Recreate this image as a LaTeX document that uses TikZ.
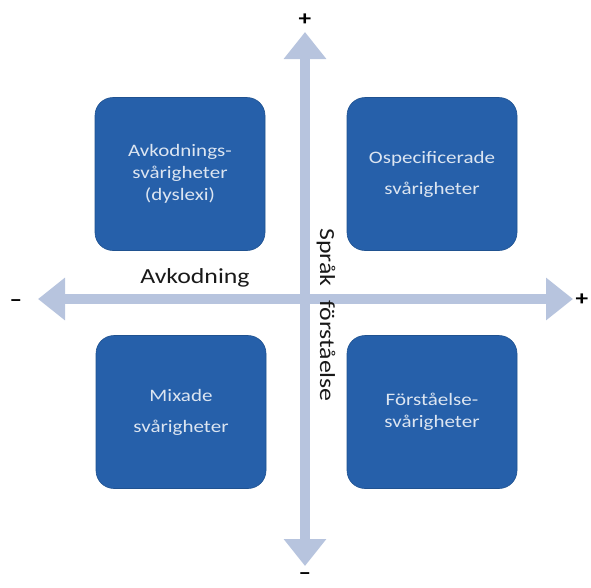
\documentclass[tikz,border=0pt]{standalone}
\usepackage{fontspec}
\setmainfont{Carlito}[FakeStretch=1.2]
\usetikzlibrary{arrows.meta}

\definecolor{boxblue}{HTML}{2660AA}
\definecolor{axisgray}{HTML}{B7C4DE}
\definecolor{boxtext}{HTML}{DCE5F1}

\tikzset{
  quadbox/.style={rectangle, rounded corners=18pt, fill=boxblue, draw=boxblue!85!black, line width=0.6pt,
    minimum width=170pt, minimum height=153pt, align=center, text=boxtext, font=\fontsize{17.5}{22}\selectfont},
  axis/.style={draw=axisgray, line width=10pt,
    {Triangle[length=27pt,width=41pt]}-{Triangle[length=27pt,width=41pt]}},
  sign/.style={font=\fontsize{21}{21}\selectfont\bfseries, inner sep=0pt},
  axislabel/.style={font=\fontsize{21.5}{24}\selectfont, text=black!90, inner sep=0pt}
}

\begin{document}
\begin{tikzpicture}[x=1pt, y=-1pt]
      \useasboundingbox (0,0) rectangle (591,587);

      % Ends of the two axes
      \coordinate (ytop) at (305,32);
      \coordinate (ybot) at (305,566);
      \coordinate (xleft) at (38,299);
      \coordinate (xright) at (573,299);

      % Axes
      \draw[axis] (xleft) -- (xright);
      \draw[axis] (ybot) -- (ytop);

      % Signs at the axis ends
      \node[sign] (yplus) at (305,20) {+};
      \node[sign] (yminus) at (305,576) {–};
      \node[sign] (xminus) at (16,303) {–};
      \node[sign] (xplus) at (582,300) {+};

      % Quadrant boxes
      \foreach \nm/\px/\py/\txt in {
          dys/180/174/{Avkodnings-\\svårigheter\\(dyslexi)},
          osp/432/174/{Ospecificerade\\[9pt]svårigheter},
          mix/181/412/{Mixade\\[9pt]svårigheter},
          fst/432/412/{Förståelse-\\svårigheter}} {
        \node[quadbox] (\nm) at (\px,\py) {\txt};
      }

      % Axis labels
      \node[axislabel, anchor=base] (avkodning) at (195,283) {Avkodning};
      \node[axislabel, rotate=-90, anchor=base west] (sprak) at (320,228) {Språk\hspace{14pt}förståelse};

\end{tikzpicture}
\end{document}
